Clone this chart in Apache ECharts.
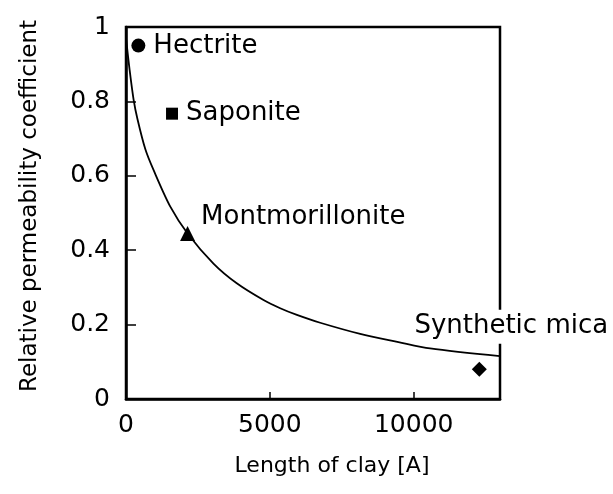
<!DOCTYPE html>
<html>
<head>
<meta charset="utf-8">
<script src="https://cdn.jsdelivr.net/npm/echarts@6/dist/echarts.min.js"></script>
<style>
  html, body { margin: 0; padding: 0; background: #fff; }
  #chart { width: 613px; height: 494px; }
</style>
</head>
<body>
<div id="chart"></div>
<script>
// fitted curve
const curveLength = [0, 125, 264, 400, 670, 960, 1540, 2140, 3040, 3850, 4780, 5360, 5940, 6750, 8140, 9470, 10570, 13000]
const curvePerm = [0.97, 0.885, 0.805, 0.752, 0.672, 0.615, 0.517, 0.445, 0.364, 0.311, 0.266, 0.244, 0.226, 0.205, 0.175, 0.153, 0.136, 0.115]

// measured clays
const clayNames = ['Hectrite', 'Saponite', 'Montmorillonite', 'Synthetic mica']
const clayLength = [430, 1600, 2140, 12280]
const clayPerm = [0.95, 0.767, 0.445, 0.08]
const claySymbols = ['circle', 'rect', 'triangle', 'diamond']

const xTicks = [0, 5000, 10000]
const yTicks = [0, 0.2, 0.4, 0.6, 0.8, 1]

const FONT = 'DejaVu Sans'
const INK = '#000'

// where each clay's label sits relative to its marker
const labelPlacement = [
  { position: 'right', distance: 8, offset: [0, 1] },
  { position: 'right', distance: 8, offset: [0, 0] },
  { position: 'right', distance: 6, offset: [0, -16] },
  { position: 'top', distance: 18, offset: [32, 0], backgroundColor: '#fff', padding: [4, 2, 4, 2] }
]
const symbolSizes = [14, 12, 15, 15]

const chart = echarts.init(document.getElementById('chart'), null, { renderer: 'canvas' })

chart.setOption({
  animation: false,
  backgroundColor: '#fff',
  grid: {
    left: 126,
    right: 113,
    top: 27,
    bottom: 95,
    show: true,
    borderColor: INK,
    borderWidth: 2.5,
    backgroundColor: 'transparent'
  },
  xAxis: {
    type: 'value',
    min: 0,
    max: 13000,
    interval: 5000,
    name: 'Length of clay [A]',
    nameLocation: 'middle',
    nameGap: 56,
    nameTextStyle: { fontFamily: FONT, fontSize: 22, color: INK, padding: [0, 0, 0, 38] },
    axisLine: { show: true, lineStyle: { color: INK, width: 2.5 } },
    axisTick: { show: true, inside: true, length: 7, lineStyle: { color: INK, width: 1.5 } },
    axisLabel: {
      fontFamily: FONT,
      fontSize: 25,
      color: INK,
      margin: 14,
      showMaxLabel: false,
      formatter: v => (xTicks.indexOf(v) >= 0 ? String(v) : '')
    },
    splitLine: { show: false }
  },
  yAxis: {
    type: 'value',
    min: 0,
    max: 1,
    interval: 0.2,
    name: 'Relative permeability coefficient',
    nameLocation: 'middle',
    nameGap: 84,
    nameTextStyle: { fontFamily: FONT, fontSize: 23, color: INK, padding: [0, 0, 0, 14] },
    axisLine: { show: true, lineStyle: { color: INK, width: 2.5 } },
    axisTick: { show: true, inside: true, length: 10, lineStyle: { color: INK, width: 1.5 } },
    axisLabel: {
      fontFamily: FONT,
      fontSize: 25,
      color: INK,
      margin: 16,
      formatter: v => {
        const t = yTicks.find(y => Math.abs(y - v) < 1e-9)
        return t === undefined ? '' : String(t)
      }
    },
    splitLine: { show: false }
  },
  series: [
    {
      type: 'line',
      data: curveLength.map((x, i) => [x, curvePerm[i]]),
      smooth: 0.3,
      showSymbol: false,
      lineStyle: { color: INK, width: 1.8 },
      z: 2
    },
    {
      type: 'scatter',
      data: clayNames.map((name, i) => ({
        name: name,
        value: [clayLength[i], clayPerm[i]],
        symbol: claySymbols[i],
        symbolSize: symbolSizes[i],
        label: Object.assign({ show: true }, labelPlacement[i])
      })),
      itemStyle: { color: INK, opacity: 1 },
      label: {
        show: true,
        formatter: p => p.name,
        fontFamily: FONT,
        fontSize: 26,
        color: INK
      },
      z: 5
    }
  ]
})
</script>
</body>
</html>
